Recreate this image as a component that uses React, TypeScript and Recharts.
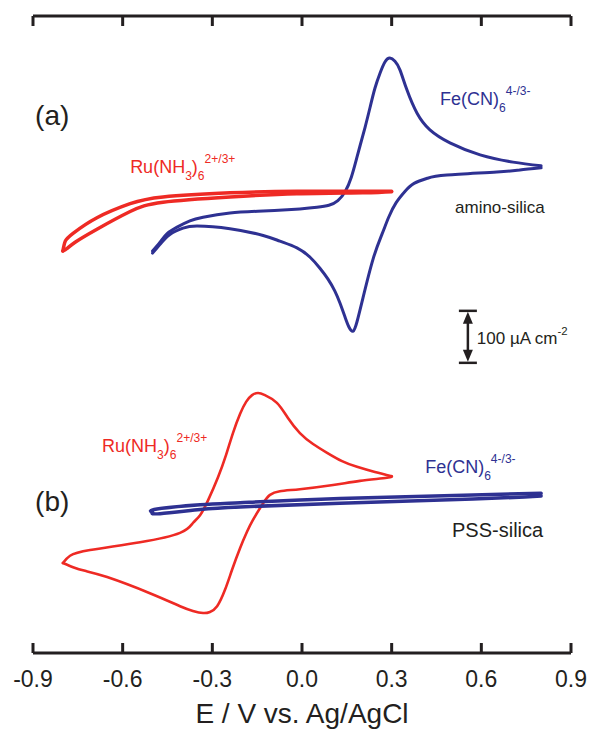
import React from "react"
import {
  LineChart,
  Line,
  XAxis,
  YAxis,
  ReferenceDot,
  ReferenceLine,
} from "recharts"

// E in V vs. Ag/AgCl, j in µA cm-2 (panel (a) shifted up for display)
type Pt = { E: number; j: number }
const pts = (rows: number[][]): Pt[] => rows.map(([E, j]) => ({ E, j }))

const xTicks = [-0.9, -0.6, -0.3, 0, 0.3, 0.6, 0.9]

// (a) amino-silica, Fe(CN)6 4-/3-
const feAForward = pts([
  [-0.5, 773], [-0.475, 790], [-0.452, 806], [-0.418, 819], [-0.375, 831],
  [-0.331, 838], [-0.241, 846], [-0.13, 850], [-0.007, 854], [0.05, 857],
  [0.09, 861], [0.12, 870], [0.145, 888], [0.165, 915], [0.18, 945], [0.194, 975],
  [0.211, 1011], [0.228, 1050], [0.244, 1086], [0.261, 1115], [0.278, 1137],
  [0.294, 1144], [0.311, 1138], [0.328, 1121], [0.351, 1083], [0.385, 1038],
  [0.428, 1006], [0.495, 981], [0.596, 958], [0.706, 944], [0.8, 937],
])
const feAReverse = pts([
  [0.8, 933], [0.729, 929], [0.652, 925], [0.485, 919], [0.42, 913],
  [0.375, 903], [0.345, 888], [0.315, 866], [0.29, 838], [0.268, 806],
  [0.238, 758], [0.204, 683], [0.184, 637], [0.171, 619], [0.157, 627],
  [0.144, 646], [0.127, 673], [0.11, 696], [0.087, 719], [0.06, 740],
  [0.027, 761], [-0.017, 779], [-0.074, 792], [-0.13, 803], [-0.241, 816],
  [-0.351, 821], [-0.398, 817], [-0.442, 805], [-0.475, 786], [-0.5, 769],
])

// (a) amino-silica, Ru(NH3)6 2+/3+
const ruAReverse = pts([
  [0.3, 887], [0.204, 885], [-0.017, 883], [-0.241, 877], [-0.465, 867],
  [-0.575, 849], [-0.686, 815], [-0.759, 790], [-0.786, 778], [-0.8, 773],
])
const ruAForward = pts([
  [-0.8, 773], [-0.792, 792], [-0.766, 807], [-0.686, 837], [-0.575, 864],
  [-0.465, 877], [-0.241, 885], [-0.017, 888], [0.3, 888],
])

// (b) PSS-silica, Ru(NH3)6 2+/3+
const ruBReverse = pts([
  [0.3, 340], [0.284, 337], [0.194, 331], [0.104, 323], [-0.007, 315],
  [-0.074, 311], [-0.107, 304], [-0.13, 288], [-0.164, 256], [-0.184, 233],
  [-0.207, 202], [-0.234, 160], [-0.258, 121], [-0.284, 90], [-0.308, 79],
  [-0.331, 77], [-0.365, 81], [-0.408, 90], [-0.509, 115], [-0.652, 146],
  [-0.726, 158], [-0.766, 165], [-0.8, 173],
])
const ruBForward = pts([
  [-0.8, 173], [-0.776, 187], [-0.709, 198], [-0.542, 213], [-0.408, 231],
  [-0.365, 250], [-0.341, 265], [-0.314, 294], [-0.281, 338], [-0.254, 381],
  [-0.231, 423], [-0.207, 460], [-0.187, 483], [-0.167, 496], [-0.147, 500],
  [-0.124, 496], [-0.084, 481], [-0.047, 452], [-0.007, 423], [0.037, 402],
  [0.084, 385], [0.134, 369], [0.184, 358], [0.244, 348], [0.3, 340],
])

// (b) PSS-silica, Fe(CN)6 4-/3-
const feBForward = pts([
  [-0.5, 270], [-0.485, 277], [-0.341, 285], [-0.207, 289], [0.127, 297],
  [0.572, 304], [0.8, 307],
])
const feBReverse = pts([
  [0.8, 302], [0.572, 296], [0.127, 288], [-0.207, 281], [-0.341, 276],
  [-0.475, 268], [-0.5, 270],
])

const BLUE = "#2e3192"
const RED = "#ee2a24"
const DARK = "#231f20"
const FONT = "'Liberation Sans', Arial, Helvetica, sans-serif"

type Part = { t: string; sub?: boolean; sup?: boolean }

const labels: { id: string; E: number; j: number; size: number; color: string; parts: Part[] }[] = [
  { id: "a", E: -0.893, j: 1015, size: 28, color: DARK, parts: [{ t: "(a)" }] },
  { id: "b", E: -0.893, j: 273, size: 28, color: DARK, parts: [{ t: "(b)" }] },
  {
    id: "feA", E: 0.462, j: 1054, size: 18, color: BLUE,
    parts: [{ t: "Fe(CN)" }, { t: "6", sub: true }, { t: "4-/3-", sup: true }],
  },
  {
    id: "ruA", E: -0.575, j: 923, size: 18, color: RED,
    parts: [{ t: "Ru(NH" }, { t: "3", sub: true }, { t: ")" }, { t: "6", sub: true }, { t: "2+/3+", sup: true }],
  },
  { id: "amino", E: 0.512, j: 846, size: 17, color: DARK, parts: [{ t: "amino-silica" }] },
  {
    id: "ruB", E: -0.669, j: 387, size: 18, color: RED,
    parts: [{ t: "Ru(NH" }, { t: "3", sub: true }, { t: ")" }, { t: "6", sub: true }, { t: "2+/3+", sup: true }],
  },
  {
    id: "feB", E: 0.412, j: 346, size: 18, color: BLUE,
    parts: [{ t: "Fe(CN)" }, { t: "6", sub: true }, { t: "4-/3-", sup: true }],
  },
  { id: "pss", E: 0.502, j: 223, size: 20, color: DARK, parts: [{ t: "PSS-silica" }] },
  {
    id: "scale", E: 0.585, j: 594, size: 17, color: DARK,
    parts: [{ t: "100 µA cm" }, { t: "-2", sup: true }],
  },
]

// scale bar: 100 µA cm-2
const scaleBar = { E: 0.555, from: 558, to: 658 }

function ChemText({ cx, cy, parts, size, color }: { cx: number; cy: number; parts: Part[]; size: number; color: string }) {
  let shift = 0
  return (
    <text x={cx} y={cy} fill={color} fontSize={size} fontFamily={FONT}>
      {parts.map((p, i) => {
        const target = p.sub ? size * 0.38 : p.sup ? -size * 0.55 : 0
        const dy = target - shift
        shift = target
        return (
          <tspan key={i} dy={dy} fontSize={p.sub || p.sup ? size * 0.67 : size}>
            {p.t}
          </tspan>
        )
      })}
    </text>
  )
}

function ScaleBarShape(props: any) {
  const { x1, y1, y2 } = props
  const top = Math.min(y1, y2)
  const bot = Math.max(y1, y2)
  return (
    <g stroke={DARK} fill={DARK}>
      <line x1={x1 - 9} x2={x1 + 9} y1={top} y2={top} strokeWidth={2.5} />
      <line x1={x1 - 9} x2={x1 + 9} y1={bot} y2={bot} strokeWidth={2.5} />
      <line x1={x1} x2={x1} y1={top + 8} y2={bot - 8} strokeWidth={2.5} />
      <polygon points={`${x1},${top + 1} ${x1 - 5},${top + 13} ${x1 + 5},${top + 13}`} stroke="none" />
      <polygon points={`${x1},${bot - 1} ${x1 - 5},${bot - 13} ${x1 + 5},${bot - 13}`} stroke="none" />
    </g>
  )
}

const series = [
  { key: "feAf", data: feAForward, color: BLUE, w: 3 },
  { key: "feAr", data: feAReverse, color: BLUE, w: 3 },
  { key: "ruAr", data: ruAReverse, color: RED, w: 3.5 },
  { key: "ruAf", data: ruAForward, color: RED, w: 3.5 },
  { key: "ruBr", data: ruBReverse, color: RED, w: 2.6 },
  { key: "ruBf", data: ruBForward, color: RED, w: 2.6 },
  { key: "feBf", data: feBForward, color: BLUE, w: 3.5 },
  { key: "feBr", data: feBReverse, color: BLUE, w: 3.5 },
]

export default function App() {
  return (
    <div style={{ position: "absolute", left: 0, top: 0, width: 589, height: 731, background: "#fff" }}>
      <LineChart width={589} height={731} margin={{ top: 15, right: 18, bottom: 0, left: 33 }}>
        <XAxis
          xAxisId="bottom"
          type="number"
          dataKey="E"
          domain={[-0.9, 0.9]}
          ticks={xTicks}
          allowDataOverflow
          height={78}
          tickSize={-10}
          tickMargin={28}
          tickFormatter={(v: number) => v.toFixed(1)}
          tick={{ fontSize: 23, fill: DARK, fontFamily: FONT }}
          axisLine={{ stroke: DARK, strokeWidth: 3 }}
          tickLine={{ stroke: DARK, strokeWidth: 3 }}
          interval={0}
          label={{
            value: "E / V vs. Ag/AgCl",
            position: "insideBottom",
            offset: 8,
            fontSize: 28,
            fill: DARK,
            fontFamily: FONT,
          }}
        />
        <XAxis
          xAxisId="top"
          orientation="top"
          type="number"
          dataKey="E"
          domain={[-0.9, 0.9]}
          ticks={xTicks}
          allowDataOverflow
          height={1}
          tickSize={-10}
          tickFormatter={() => ""}
          tick={{ fontSize: 1 }}
          axisLine={{ stroke: DARK, strokeWidth: 3 }}
          tickLine={{ stroke: DARK, strokeWidth: 3 }}
          interval={0}
        />
        <YAxis hide type="number" domain={[0, 1225]} allowDataOverflow />
        {series.map((s) => (
          <Line
            key={s.key}
            xAxisId="bottom"
            data={s.data}
            dataKey="j"
            type="natural"
            stroke={s.color}
            strokeWidth={s.w}
            strokeLinejoin="round"
            strokeLinecap="round"
            dot={false}
            activeDot={false}
            isAnimationActive={false}
          />
        ))}
        <ReferenceLine
          xAxisId="bottom"
          segment={[
            { x: scaleBar.E, y: scaleBar.from },
            { x: scaleBar.E, y: scaleBar.to },
          ]}
          ifOverflow="visible"
          shape={ScaleBarShape}
        />
        {labels.map((l) => (
          <ReferenceDot
            key={l.id}
            xAxisId="bottom"
            x={l.E}
            y={l.j}
            r={0}
            ifOverflow="visible"
            shape={(p: any) => <ChemText cx={p.cx} cy={p.cy} parts={l.parts} size={l.size} color={l.color} />}
          />
        ))}
      </LineChart>
    </div>
  )
}
